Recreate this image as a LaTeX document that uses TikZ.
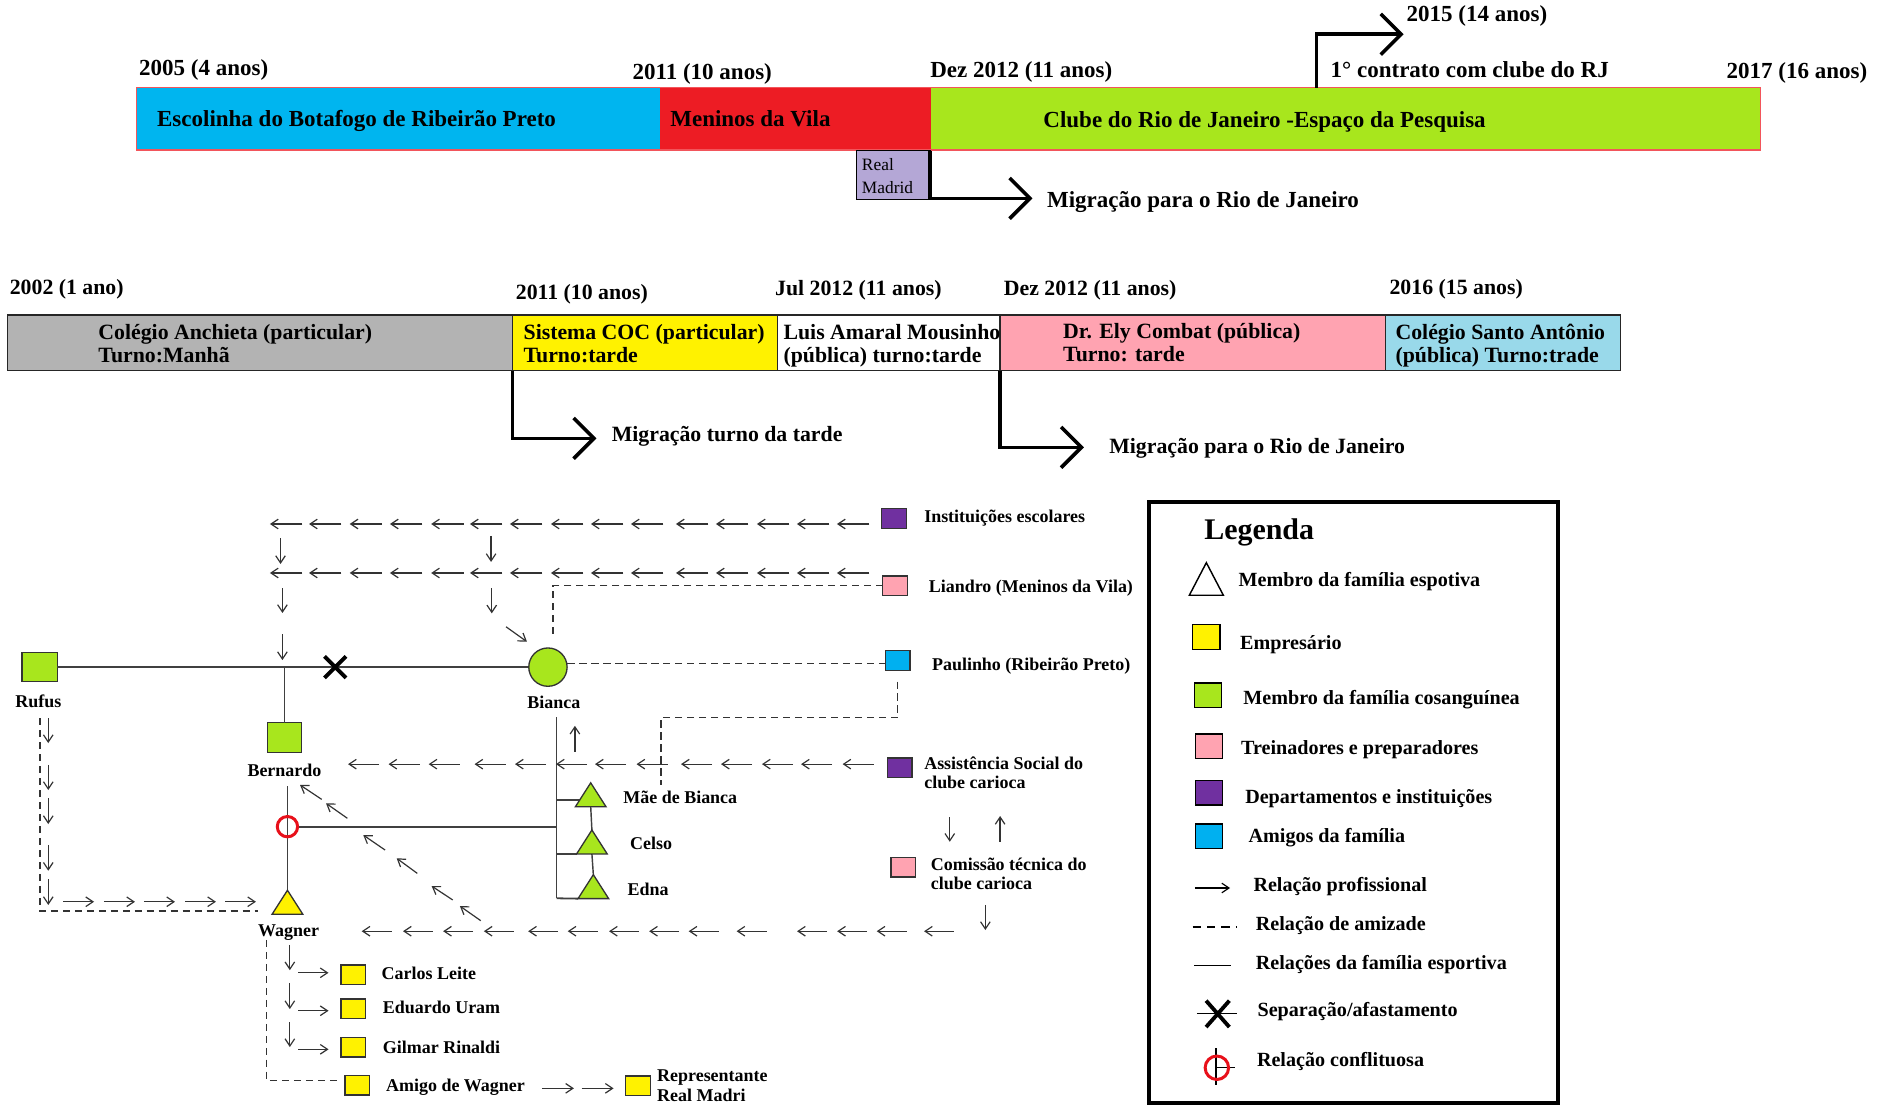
\documentclass[tikz,border=0pt]{standalone}
\usepackage{fontspec}
\setmainfont{Liberation Serif}
\usetikzlibrary{arrows.meta,calc}

\definecolor{tlblue}{HTML}{00B5EF}
\definecolor{tlred}{HTML}{ED1C24}
\definecolor{tlgreen}{HTML}{A8E61D}
\definecolor{rmlav}{HTML}{B4A7D6}
\definecolor{mdgray}{HTML}{B3B3B3}
\definecolor{mdyellow}{HTML}{FFF200}
\definecolor{mdpink}{HTML}{FFA3B1}
\definecolor{mdsky}{HTML}{99D9EA}
\definecolor{kgreen}{HTML}{A8E61D}
\definecolor{kyellow}{HTML}{FFF200}
\definecolor{kpink}{HTML}{FFA3B1}
\definecolor{kpurple}{HTML}{7030A0}
\definecolor{kblue}{HTML}{00B0F0}
\definecolor{conflict}{HTML}{E8101A}
\definecolor{ink}{HTML}{333333}
\definecolor{famline}{HTML}{404040}

% triangle drawn inside a named (invisible) node
\newcommand\kintri[2]{\draw[draw=ink,line width=1.1pt,fill=#2,line join=miter] (#1.south west) -- (#1.north) -- (#1.south east) -- cycle;}

\begin{document}
\begin{tikzpicture}[x=1pt,y=-1pt,
  bar/.style={inner sep=0pt,outer sep=0pt,anchor=north west},
  mbar/.style={bar,draw=black!85,line width=1pt,minimum height=46.5pt},
  tl/.style={inner sep=0pt,anchor=west,text depth=0pt,text height=12.7pt,font=\fontsize{19.2}{23}\selectfont\bfseries},
  md/.style={inner sep=0pt,anchor=west,text depth=0pt,text height=12pt,align=left,font=\fontsize{18.2}{19}\selectfont\bfseries},
  lo/.style={inner sep=0pt,anchor=west,text depth=0pt,text height=10pt,align=left,font=\fontsize{15}{16}\selectfont\bfseries},
  loc/.style={lo,anchor=center},
  lg/.style={inner sep=0pt,anchor=west,text depth=0pt,text height=11.1pt,font=\fontsize{16.8}{19}\selectfont\bfseries},
  migr/.style={line width=3pt,-{Straight Barb[length=17pt,width=34pt]}},
  prof/.style={draw=ink,line width=1pt,-{Straight Barb[length=6pt,width=8pt]}},
  friend/.style={draw=ink,line width=1.1pt,dash pattern=on 6pt off 4pt},
  fam/.style={draw=famline,line width=1.5pt},
  sq/.style={draw=ink,line width=1.1pt,inner sep=0pt,outer sep=0pt,minimum width=20.7pt,minimum height=16.4pt},
  legsq/.style={draw=black,line width=1.2pt,inner sep=0pt,outer sep=0pt,minimum width=22.8pt,minimum height=20.6pt},
  tnode/.style={inner sep=0pt,outer sep=0pt,minimum width=25.6pt,minimum height=20pt}
]
\useasboundingbox (0,0) rectangle (1568,923);

% ================= club timeline =================
\node[bar,fill=tlblue,minimum width=437pt,minimum height=52pt] (escolinha) at (114,73.2) {};
\node[bar,fill=tlred,minimum width=226pt,minimum height=52pt] (meninos) at (551,73.2) {};
\node[bar,fill=tlgreen,minimum width=693pt,minimum height=52pt] (clube) at (777,73.2) {};
\draw[draw=tlred!75!white,line width=1pt] (escolinha.north west) rectangle (clube.south east);

\node[tl] (tEsc) at (131,99) {Escolinha do Botafogo de Ribeirão Preto};
\node[tl] (tMen) at (559.5,99) {Meninos da Vila};
\node[tl] (tClu) at (871,100) {Clube do Rio de Janeiro -Espaço da Pesquisa};

\node[tl] (y2005) at (116,57) {2005 (4 anos)};
\node[tl] (y2011) at (528,59.8) {2011 (10 anos)};
\node[tl] (yDez) at (776.5,58.5) {Dez 2012 (11 anos)};
\node[tl] (y2017) at (1441.4,59) {2017 (16 anos)};
\node[tl] (y2015) at (1174.3,12) {2015 (14 anos)};
\node[tl] (contrato) at (1110.8,58.4) {1° contrato com clube do RJ};

\node[bar,fill=rmlav,draw=black,line width=1.3pt,minimum width=61.5pt,minimum height=40.6pt] (realmadrid) at (715,125.8) {};
% two-line labels: the given point is the centre of the last line
\node[inner sep=0pt,anchor=west,align=left,font=\fontsize{14.5}{18.6}\selectfont,text height=9.6pt,text depth=0pt] (tReal) at (719.5,156.4) {Real\\Madrid};

\coordinate (tipRJ1) at (862,165.6);
\draw[migr] (realmadrid.north east) |- (tipRJ1);
\node[tl] (mig1) at (874,167) {Migração para o Rio de Janeiro};

\coordinate (k2015) at (1099.3,73.2);
\coordinate (tip2015) at (1172,28.6);
\draw[migr] (k2015) |- (tip2015);

% ================= school timeline =================
\node[md] (y2002) at (8,240) {2002 (1 ano)};
\node[md] (y2011b) at (430.5,244) {2011 (10 anos)};
\node[md] (yJul) at (647,241) {Jul 2012 (11 anos)};
\node[md] (yDezb) at (838,241) {Dez 2012 (11 anos)};
\node[md] (y2016) at (1160,240) {2016 (15 anos)};

\node[mbar,fill=mdgray,minimum width=422pt] (anchieta) at (6,263) {};
\node[mbar,fill=mdyellow,minimum width=221pt] (coc) at (428,263) {};
\node[mbar,fill=white,minimum width=186pt] (luis) at (649,263) {};
\node[mbar,fill=mdpink,minimum width=322pt] (ely) at (835,263) {};
\node[mbar,fill=mdsky,minimum width=196pt] (santo) at (1157,263) {};

\node[md] (tAnc) at (82,296.5) {Colégio Anchieta (particular)\\Turno:Manhã};
\node[md] (tCoc) at (437,296.5) {Sistema COC (particular)\\Turno:tarde};
\node[md] (tLuis) at (654,296.5) {Luis Amaral Mousinho\\(pública) turno:tarde};
\node[md] (tEly) at (887.5,295.5) {Dr. Ely Combat (pública)\\Turno: tarde};
\node[md] (tSanto) at (1165,296.5) {Colégio Santo Antônio\\(pública) Turno:trade};

\coordinate (tipTarde) at (498,366);
\draw[migr] (coc.south west) |- (tipTarde);
\node[md] (mig2) at (510.6,363) {Migração turno da tarde};
\coordinate (tipRJ2) at (905,373.5);
\draw[migr] (ely.south west) |- (tipRJ2);
\node[md] (mig3) at (926,372.5) {Migração para o Rio de Janeiro};

% ================= relations map =================
% people and institutions
\node[sq,fill=kgreen,minimum width=29.4pt,minimum height=24pt] (rufus) at (33.2,557) {};
\node[loc] (lRufus) at (32,585.8) {Rufus};
\node[sq,fill=kgreen,minimum width=28pt,minimum height=25pt] (bernardo) at (237.5,616) {};
\node[loc] (lBern) at (237.5,643) {Bernardo};
\node[circle,draw=ink,line width=1.1pt,fill=kgreen,minimum size=32pt,inner sep=0pt] (bianca) at (457.5,557) {};
\node[loc] (lBianca) at (462.4,586.4) {Bianca};

\node[tnode] (wagner) at (240,753.3) {};
\node[loc] (lWagner) at (241,776.5) {Wagner};
\node[tnode] (mae) at (493.2,663.6) {};
\node[tnode] (celso) at (494.2,703) {};
\node[tnode] (edna) at (495.4,740.3) {};
\node[lo] (lMae) at (520.3,665.7) {Mãe de Bianca};
\node[lo] (lCelso) at (526,704.1) {Celso};
\node[lo] (lEdna) at (523.8,742.5) {Edna};

\node[sq,fill=kpurple] (inst) at (746.4,433) {};
\node[lo] (lInst) at (771.5,431.4) {Instituições escolares};
\node[sq,fill=kpink] (liandro) at (747.4,489) {};
\node[lo] (lLiandro) at (775.3,489.8) {Liandro (Meninos da Vila)};
\node[sq,fill=kblue] (paulinho) at (749.5,551.4) {};
\node[lo] (lPaulinho) at (778,555) {Paulinho (Ribeirão Preto)};
\node[sq,fill=kpurple] (assist) at (751.2,641.2) {};
\node[lo] (lAssist) at (771.5,653.5) {Assistência Social do\\clube carioca};
\node[sq,fill=kpink] (comissao) at (754.3,723.9) {};
\node[lo] (lComissao) at (777,737.5) {Comissão técnica do\\clube carioca};

\node[sq,fill=kyellow] (carlos) at (295,814) {};
\node[lo] (lCarlos) at (318.5,812.4) {Carlos Leite};
\node[sq,fill=kyellow] (eduardo) at (295,842.4) {};
\node[lo] (lEduardo) at (319.5,841) {Eduardo Uram};
\node[sq,fill=kyellow] (gilmar) at (295,874.2) {};
\node[lo] (lGilmar) at (319.5,874.7) {Gilmar Rinaldi};
\node[sq,fill=kyellow] (amigo) at (298.3,906) {};
\node[lo] (lAmigo) at (322.2,905.9) {Amigo de Wagner};
\node[sq,fill=kyellow] (repr) at (532.5,906.7) {};
\node[lo] (lRepr) at (548.5,914.3) {Representante\\Real Madri};

% family ties
\draw[fam] (rufus.east) -- (bianca.west);
\coordinate (bernTop) at (237.5,557);
\draw[fam] (bernTop) -- (bernardo.north);
\coordinate (sepX) at (279.9,557);
\draw[line width=3.2pt] ($(sepX)+(-9,-9)$) -- ($(sepX)+(9,9)$) ($(sepX)+(-9,9)$) -- ($(sepX)+(9,-9)$);

\coordinate (bwTop) at (240,656.3);
\draw[fam] (bwTop) -- (wagner.north);
\coordinate (famTop) at (464.7,599);
\coordinate (famBot) at (464.7,750);
\draw[fam] (famTop) -- (famBot);
\path ($(mae.south west)!0.28!(mae.north)$) coordinate (maeT);
\draw[fam] (maeT -| famTop) -- (maeT);
\draw[fam] (celso.south west -| famTop) -- (celso.south west);
\draw[fam] (famBot) -- (edna.south west);
\draw[fam,line width=1.2pt] (mae.south) -- (celso.north) (celso.south) -- (edna.north);

\node[circle,draw=conflict,line width=2.5pt,minimum size=17pt,inner sep=0pt] (conf) at (240,690.2) {};
\draw[fam] (conf.east) -- (conf.east -| famTop);

\kintri{wagner}{kyellow}
\kintri{mae}{kgreen}
\kintri{celso}{kgreen}
\kintri{edna}{kgreen}

% friendship ties
\coordinate (lianEnd) at (461.6,531.6);
\draw[friend] (liandro.west) -| (lianEnd);
\draw[friend] (bianca.10) -- (bianca.10 -| paulinho.west);
\coordinate (pauStart) at (749.5,569);
\coordinate (pauCorner) at (552,599);
\coordinate (pauEnd) at (552,655.4);
\draw[friend] (pauStart) |- (pauCorner) -- (pauEnd);
\coordinate (rufDash) at (33.4,599.7);
\coordinate (rufDashEnd) at (215.7,760.6);
\draw[friend] (rufDash) |- (rufDashEnd);
\coordinate (wagDash) at (222.6,784.8);
\coordinate (wagDashEnd) at (282.2,902);
\draw[friend] (wagDash) |- (wagDashEnd);

% professional ties
\foreach \x in {225.4,258,292,325.6,360,392.4,425.8,460,493.4,526.8,564.4,597.8,632,665.4,698.8} {
  \draw[prof] (\x+27,437.5) -- (\x,437.5);
  \draw[prof] (\x+27,478.4) -- (\x,478.4);
}
\foreach \x in {290.6,324.4,357.9,396.2,430,464.2,496.8,531.5,568.6,602,636.2,668.8,703.5}
  \draw[prof] (\x+26,638) -- (\x,638);
\foreach \x in {302,336.5,370,404,441,474,508.5,542,575,615,665.5,699,732,771.5}
  \draw[prof] (\x+25,777.5) -- (\x,777.5);
\foreach \x/\a/\b in {234.2/449.2/470.9,410/447.5/469.2,235.8/491/511.8,410.6/491.2/512.1,235.8/529.4/551.1}
  \draw[prof] (\x,\a) -- (\x,\b);
\draw[prof] (422.5,523.3) -- (440,535.8);
\draw[prof] (480,627.6) -- (480,606);
\draw[prof] (793,682.4) -- (793,702.8);
\draw[prof] (835,702.8) -- (835,681.3);
\draw[prof] (822.7,755.6) -- (822.7,776.5);
\foreach \ax/\ay/\bx/\by in {268.6/667.4/250.5/655.4, 290/683.2/272.2/670.7, 321.5/709.7/303.3/697.2,
    348.4/729.2/331.2/716.6, 378/751.4/360.4/739.8, 401.4/768.7/384/756.5}
  \draw[prof] (\ax,\ay) -- (\bx,\by);
\foreach \a/\b in {599.5/620.4,638.7/659.6,666.3/688,705.5/727,734/755.6}
  \draw[prof] (40.3,\a) -- (40.3,\b);
\foreach \a/\b in {52.6/78.5,86.8/112.7,120.2/146.1,154.5/180.3,187.9/213.7}
  \draw[prof] (\a,752.9) -- (\b,752.9);
\foreach \a/\b in {789/810,820.7/842.5,853.3/874.2}
  \draw[prof] (242,\a) -- (242,\b);
\foreach \y in {812.2,843.9,876.1}
  \draw[prof] (249.2,\y) -- (274.3,\y);
\foreach \a/\b in {452.5/479.2,485.7/512.3}
  \draw[prof] (\a,908.7) -- (\b,908.7);

% ================= legend =================
\node[bar,draw=black,line width=3.5pt,minimum width=341.4pt,minimum height=502pt] (legend) at (959.6,419) {};
\node[lg,font=\fontsize{25}{28}\selectfont\bfseries,text height=16.5pt] (legTitle) at (1005.3,442) {Legenda};

\node[tnode,minimum width=28.4pt,minimum height=27.2pt] (legTri) at (1007.2,483.4) {};
\draw[black,line width=1.2pt,fill=white] (legTri.south west) -- (legTri.north) -- (legTri.south east) -- cycle;
\node[legsq,fill=kyellow] (legEmp) at (1007.2,531.9) {};
\node[legsq,fill=kgreen] (legCons) at (1008.5,580.5) {};
\node[legsq,fill=kpink] (legTrein) at (1009.4,623.2) {};
\node[legsq,fill=kpurple] (legDep) at (1009.4,661.9) {};
\node[legsq,fill=kblue] (legAmi) at (1009.4,698.3) {};

\coordinate (lpA) at (997.7,741.4); \coordinate (lpB) at (1027,741.4);
\draw[prof,draw=black] (lpA) -- (lpB);
\coordinate (laA) at (995.8,773.9); \coordinate (laB) at (1032,773.9);
\draw[black,line width=1.1pt,dash pattern=on 7pt off 5pt] (laA) -- (laB);
\coordinate (lfA) at (997,806); \coordinate (lfB) at (1027.6,806);
\draw[black,line width=1.2pt] (lfA) -- (lfB);
\coordinate (lsep) at (1016.7,846.5);
\draw[black,line width=1pt] ($(lsep)+(-17.5,0)$) -- ($(lsep)+(16.3,0)$);
\draw[black,line width=3.2pt] ($(lsep)+(-9.7,-11)$) -- ($(lsep)+(9.7,11)$) ($(lsep)+(-9.7,11)$) -- ($(lsep)+(9.7,-11)$);
\coordinate (lcon) at (1015.3,891.4);
\draw[black,line width=1pt] ($(lcon)+(0,-16.4)$) -- ($(lcon)+(0,14.8)$) (lcon) -- ($(lcon)+(15.9,0)$);
\node[circle,draw=conflict,line width=2.5pt,minimum size=19.6pt,inner sep=0pt] (lconf) at (1016,891.5) {};

\node[lg] at (1034,484) {Membro da família espotiva};
\node[lg] at (1035.3,536.4) {Empresário};
\node[lg] at (1038,583) {Membro da família cosanguínea};
\node[lg] at (1036,624) {Treinadores e preparadores};
\node[lg] at (1039.5,665) {Departamentos e instituições};
\node[lg] at (1042.3,697.8) {Amigos da família};
\node[lg] at (1046.4,738.8) {Relação profissional};
\node[lg] at (1048.4,771) {Relação de amizade};
\node[lg] at (1048.4,803.8) {Relações da família esportiva};
\node[lg] at (1049.8,842.9) {Separação/afastamento};
\node[lg] at (1049.3,884.8) {Relação conflituosa};

\end{tikzpicture}
\end{document}
